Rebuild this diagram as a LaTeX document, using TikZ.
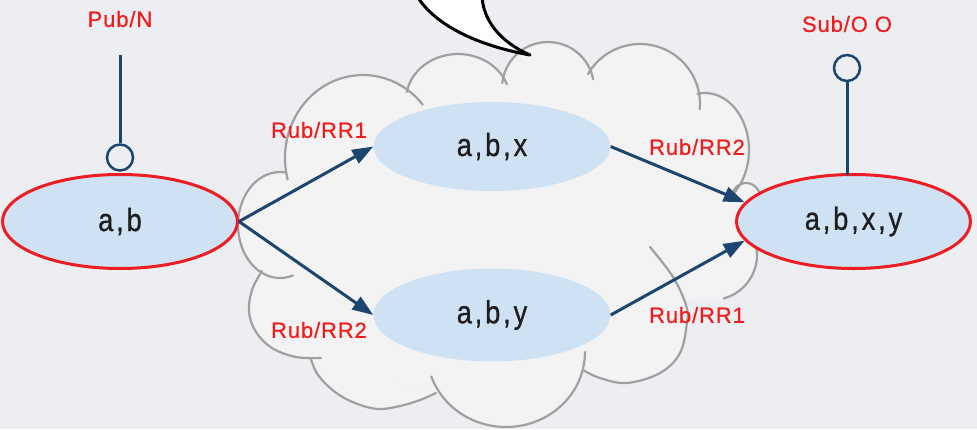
\documentclass[tikz,border=0pt]{standalone}
\usepackage{fontspec}
\setmainfont{Liberation Sans}
\newfontfamily\setfont[LetterSpace=9,FakeStretch=0.85,FakeBold=0.8]{Liberation Sans}
\newfontfamily\tagfont[LetterSpace=4,FakeBold=0.5]{Liberation Sans}
\usetikzlibrary{shapes.geometric,arrows.meta}

\definecolor{bgc}{HTML}{ECEEF2}
\definecolor{cloudfill}{HTML}{F3F3F3}
\definecolor{cloudline}{HTML}{A0A0A0}
\definecolor{setblue}{HTML}{CFE2F3}
\definecolor{edgered}{HTML}{EE1D23}
\definecolor{tagred}{HTML}{F21B1B}
\definecolor{navy}{HTML}{1C4670}
\definecolor{inktext}{HTML}{1E1E1E}

% elliptic bump of the cloud: centre, x radius, y radius, first and last angle
\newcommand\arcfill[5]{\fill[cloudfill] (#1) -- ++(#4:#2 and #3)
  arc[start angle=#4, end angle=#5, x radius=#2, y radius=#3] -- cycle;}
\newcommand\arcline[5]{\draw[cloudedge] (#1) ++(#4:#2 and #3)
  arc[start angle=#4, end angle=#5, x radius=#2, y radius=#3];}
% free-form bump of the cloud through a list of points
\newcommand\bumpfill[1]{\fill[cloudfill] plot[smooth,tension=.6] coordinates {#1} -- cycle;}
\newcommand\bumpline[1]{\draw[cloudedge] plot[smooth,tension=.6] coordinates {#1};}

% all bumps of the cloud; #1 draws elliptic ones, #2 free-form ones
\newcommand\cloudbumps[2]{%
  #1{280,225}{42}{53}{72}{278}%
  #1{363,158}{78}{83}{165}{320}%
  #1{458,100}{52}{46}{190}{340}%
  #1{548,88}{46}{46}{186}{349}%
  #1{640,104}{60}{60}{210}{365}%
  #1{705,150}{44}{57}{260}{412}%
  #1{746,197}{14}{14}{185}{380}%
  #1{712,255}{45}{45}{-40}{75}%
  #1{506,352}{79}{75}{0}{161}%
  #2{(650,247) (673,277) (686,305) (687,322) (680,353) (660,373) (627,383) (600,378) (583,370)}%
  #2{(311,359) (318,375) (335,392) (355,403) (378,409) (400,406) (420,400) (436,393)}%
  #2{(262,271) (252,290) (249,312) (256,332) (272,348) (296,357) (321,358)}%
}

\tikzset{
  cloudedge/.style={draw=cloudline, line width=2.2pt, line cap=round},
  setnode/.style={ellipse, fill=setblue, inner sep=0pt, text=inktext,
    font={\setfont\fontsize{32}{36}\selectfont}},
  endset/.style={setnode, draw=edgered, line width=3pt},
  tag/.style={inner sep=0pt, text=tagred, font={\tagfont\fontsize{22}{26}\selectfont}},
  flow/.style={draw=navy, line width=3pt, -{Triangle[length=21pt,width=15pt]}},
  pinline/.style={draw=navy, line width=3pt},
  pinhead/.style={circle, draw=navy, line width=2.5pt, fill=bgc, minimum size=26pt, inner sep=0pt},
}

\begin{document}
\begin{tikzpicture}[x=1pt,y=-1pt]
\useasboundingbox (0,0) rectangle (977,429);
\begin{scope}
\clip (0,0) rectangle (977,429);
\fill[bgc] (0,0) rectangle (977,429);

% cloud body
\fill[cloudfill] (287,172) -- (407,88) -- (505,80) -- (589,70) -- (700,93)
  -- (737,193) -- (755,196) -- (757,240) -- (722,299) -- (686,300)
  -- (583,370) -- (436,393) -- (312,361) -- (262,272) -- cycle;
\cloudbumps\arcfill\bumpfill
\cloudbumps\arcline\bumpline

% tail of the speech bubble coming from above
\filldraw[fill=white, draw=black, line width=3pt, line join=round]
  (417,-4) .. controls (434,24) and (475,45) .. (530,55)
  .. controls (500,42) and (483,20) .. (482,-4);

% sets
\node[endset, minimum width=235pt, minimum height=94pt] (ab) at (120,221.5) {a,b};
\node[setnode, minimum width=237pt, minimum height=89pt] (abx) at (492,146.5) {a,b,x};
\node[setnode, minimum width=237pt, minimum height=93pt] (aby) at (492,315) {a,b,y};
\node[endset, minimum width=234pt, minimum height=94pt] (abxy) at (853.5,221.5) {a,b,x,y};

% transitions
\draw[flow] (ab.east) -- (abx.west);
\draw[flow] (ab.east) -- (aby.west);
\draw[flow] (abx.east) -- (abxy.170);
\draw[flow] (aby.east) -- (abxy.190);

\node[tag] (t1) at (319,130) {Rub/RR1};
\node[tag] (t2) at (319,330) {Rub/RR2};
\node[tag] (t3) at (697,147) {Rub/RR2};
\node[tag] (t4) at (697,315) {Rub/RR1};

% publish and subscribe pins
\coordinate (pubtop) at (120,55);
\node[pinhead] (pubpin) at (120,157.5) {};
\draw[pinline] (pubtop) -- (pubpin.north);
\node[tag] (pubtag) at (120,19) {Pub/N};

\coordinate (subfoot) at (847,174.5);
\node[pinhead] (subpin) at (847,68) {};
\draw[pinline] (subpin.south) -- (subfoot);
\node[tag] (subtag) at (847,24) {Sub/O O};
\end{scope}
\end{tikzpicture}
\end{document}
